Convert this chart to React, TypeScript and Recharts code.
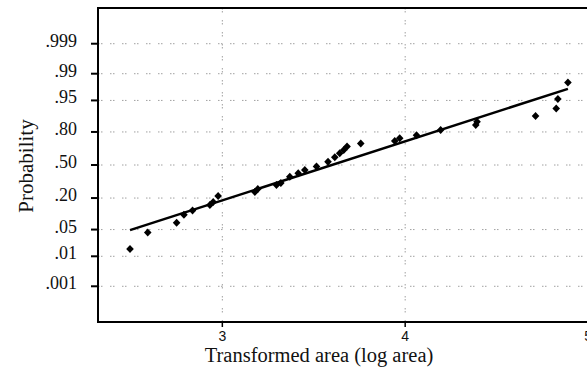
import { CartesianGrid, ReferenceArea, Scatter, ScatterChart, XAxis, YAxis } from "recharts";

// normal-probability plot: y is the normal score (z) of each probability
const probLabels = [".999", ".99", ".95", ".80", ".50", ".20", ".05", ".01", ".001"];
const probZ = [3.09, 2.326, 1.645, 0.842, 0, -0.842, -1.645, -2.326, -3.09];
const xTicks = [3, 4, 5];

// observed points: log area vs normal score
const logArea = [
  2.495, 2.592, 2.75, 2.79, 2.837, 2.932, 2.95, 2.977, 3.178, 3.194, 3.296, 3.32, 3.369, 3.415, 3.451, 3.515,
  3.578, 3.615, 3.642, 3.664, 3.682, 3.757, 3.943, 3.97, 4.062, 4.194, 4.386, 4.393, 4.713, 4.826, 4.835, 4.89,
];
const score = [
  -2.14, -1.72, -1.47, -1.27, -1.16, -1.02, -0.94, -0.79, -0.69, -0.61, -0.51, -0.46, -0.3, -0.21, -0.13, -0.04,
  0.08, 0.2, 0.3, 0.38, 0.47, 0.55, 0.61, 0.68, 0.76, 0.89, 1.02, 1.1, 1.25, 1.44, 1.68, 2.1,
];

// fitted line end points
const fitX = [2.495, 4.89];
const fitZ = [-1.66, 1.94];

const X_MIN = 2.32;
const X_MAX = 5.06;
const Z_MIN = -4;
const Z_MAX = 4;

const points = logArea.map((x, i) => ({ x, z: score[i] }));
const fit = fitX.map((x, i) => ({ x, z: fitZ[i] }));

const serif = "Liberation Serif, Times New Roman, serif";

const Diamond = (p: any) => {
  const { cx, cy } = p;
  return <polygon points={`${cx},${cy - 4} ${cx + 3.8},${cy} ${cx},${cy + 4} ${cx - 3.8},${cy}`} fill="#000" />;
};

const YTick = (p: any) => {
  const i = probZ.indexOf(p.payload.value);
  return (
    <text x={p.x} y={p.y + 3} textAnchor="end" style={{ fontFamily: serif }} fontSize={18} fill="#111">
      {probLabels[i]}
    </text>
  );
};

export default function App() {
  return (
    <div style={{ position: "absolute", left: 0, top: 0, width: 587, height: 377, overflow: "hidden", background: "#fff" }}>
      <ScatterChart width={604} height={377} margin={{ top: 8, right: 5, left: 0, bottom: 0 }}>
        <CartesianGrid stroke="#a0a0a0" strokeDasharray="1.5 1.5 1.5 7.5" />
        <XAxis
          type="number"
          dataKey="x"
          domain={[X_MIN, X_MAX]}
          ticks={xTicks}
          height={55}
          tickSize={5}
          tickMargin={4}
          axisLine={{ stroke: "#000", strokeWidth: 2 }}
          tickLine={{ stroke: "#000", strokeWidth: 1.5 }}
          tick={{ fill: "#111", fontSize: 14, fontFamily: "Liberation Sans, Arial, sans-serif" }}
          label={{
            content: () => (
              <text x={319} y={362} textAnchor="middle" style={{ fontFamily: serif }} fontSize={20.5} fill="#111">
                Transformed area (log area)
              </text>
            ),
          }}
        />
        <YAxis
          type="number"
          dataKey="z"
          domain={[Z_MIN, Z_MAX]}
          ticks={probZ}
          interval={0}
          width={98}
          tickSize={7}
          tickMargin={14}
          axisLine={{ stroke: "#000", strokeWidth: 2 }}
          tickLine={{ stroke: "#000", strokeWidth: 2 }}
          tick={<YTick />}
          label={{
            content: () => (
              <text x={33} y={166} transform="rotate(-90, 33, 166)" textAnchor="middle" style={{ fontFamily: serif }} fontSize={21} fill="#111">
                Probability
              </text>
            ),
          }}
        />
        <ReferenceArea x1={X_MIN} x2={X_MAX} y1={Z_MIN} y2={Z_MAX} fill="none" stroke="#000" strokeWidth={2} ifOverflow="visible" />
        <Scatter data={fit} line={{ stroke: "#000", strokeWidth: 2.5 }} shape={() => <g />} isAnimationActive={false} />
        <Scatter data={points} shape={<Diamond />} isAnimationActive={false} />
      </ScatterChart>
    </div>
  );
}
